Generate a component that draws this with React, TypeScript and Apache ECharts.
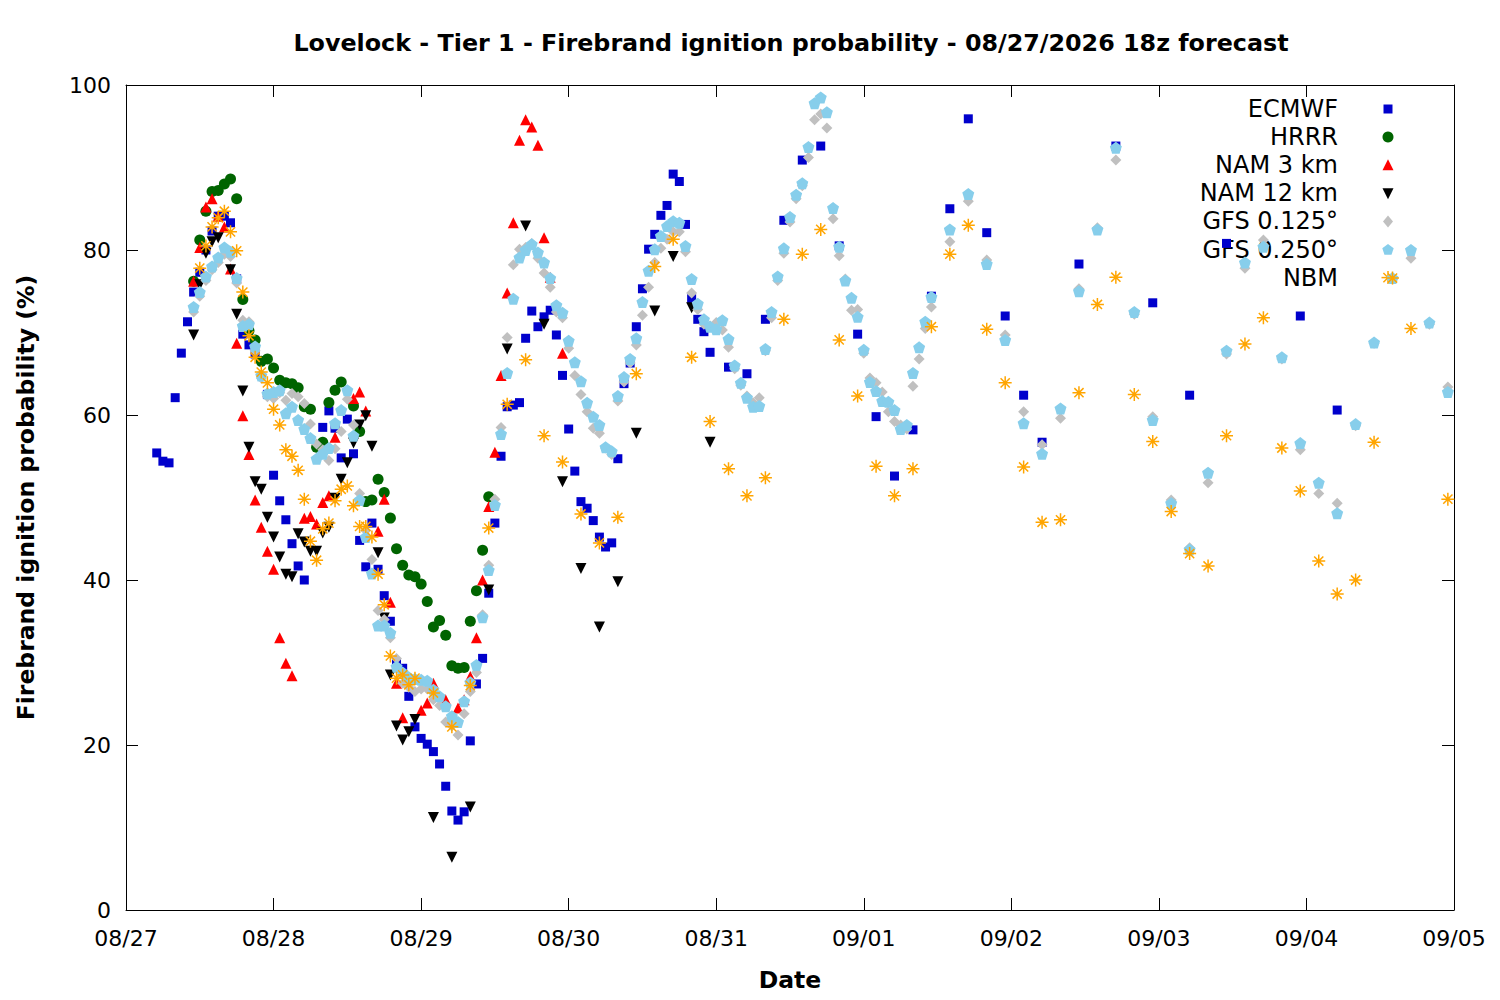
import { useRef, useEffect } from "react";
import * as echarts from "echarts";

// hours since 08/27 00z, value in %
const DATE_LABELS = ["08/27", "08/28", "08/29", "08/30", "08/31", "09/01", "09/02", "09/03", "09/04", "09/05"];

const ECMWF: [number, number][] = [
  [5, 55.4], [6, 54.4], [7, 54.2], [8, 62.1], [9, 67.5], [10, 71.3], [11, 74.9], [12, 77.3], [13, 80], [14, 82.3],
  [15, 84.1], [16, 84.1], [17, 83.3], [18, 76.5], [19, 69.8], [20, 68.5], [21, 67.4], [23, 62.5], [24, 52.7], [25, 49.6],
  [26, 47.3], [27, 44.4], [28, 41.7], [29, 40], [32, 58.5], [33, 60.5], [34, 58.4], [35, 54.8], [36, 59.5], [37, 55.3],
  [38, 44.8], [39, 41.6], [40, 46.9], [41, 41.3], [42, 38.1], [43, 35], [44, 29.9], [45, 29.3], [46, 25.9], [47, 22.2],
  [48, 20.8], [49, 20.1], [50, 19.2], [51, 17.7], [52, 15], [53, 12], [54, 10.9], [55, 11.9], [56, 20.5], [57, 27.4],
  [58, 30.5], [59, 38.4], [60, 46.9], [61, 55], [62, 61], [63, 61.2], [64, 61.5], [65, 69.3], [66, 72.6], [67, 70.7],
  [68, 71.9], [69, 72.7], [70, 69.7], [71, 64.8], [72, 58.3], [73, 53.2], [74, 49.5], [75, 48.7], [76, 47.2], [77, 45.2],
  [78, 44], [79, 44.5], [80, 54.7], [81, 63.8], [82, 66.3], [83, 70.7], [84, 75.3], [85, 80.1], [86, 81.9], [87, 84.2],
  [88, 85.4], [89, 89.2], [90, 88.3], [91, 83.1], [92, 74.1], [93, 71.6], [94, 70.1], [95, 67.6], [98, 65.8], [101, 65],
  [104, 71.6], [107, 83.6], [110, 90.9], [113, 92.6], [116, 80.5], [119, 69.8], [122, 59.8], [125, 52.6], [128, 58.2], [131, 74.4],
  [134, 85], [137, 95.9], [140, 82.1], [143, 72], [146, 62.4], [149, 56.7], [155, 78.3], [161, 92.6], [167, 73.6], [173, 62.4],
  [179, 80.8], [191, 72], [197, 60.6],
];

const HRRR: [number, number][] = [
  [11, 76.2], [12, 81.2], [13, 84.7], [14, 87.1], [15, 87.2], [16, 88], [17, 88.6], [18, 86.2], [19, 74], [20, 70.2],
  [21, 69.1], [22, 66.5], [23, 66.8], [24, 65.7], [25, 64.2], [26, 63.9], [27, 63.8], [28, 63.3], [29, 61], [30, 60.7],
  [31, 56.1], [32, 56.7], [33, 61.5], [34, 63], [35, 64], [37, 61.1], [38, 58], [39, 49.5], [40, 49.7], [41, 52.2],
  [42, 50.6], [43, 47.5], [44, 43.8], [45, 41.8], [46, 40.6], [47, 40.4], [48, 39.5], [49, 37.4], [50, 34.3], [51, 35.1],
  [52, 33.3], [53, 29.6], [54, 29.3], [55, 29.4], [56, 35], [57, 38.7], [58, 43.6], [59, 50.1],
];

const NAM3: [number, number][] = [
  [11, 76.2], [12, 80.3], [13, 85.2], [14, 86.2], [15, 84.1], [16, 82.8], [17, 77.7], [18, 68.7], [19, 59.9], [20, 55.2],
  [21, 49.7], [22, 46.4], [23, 43.5], [24, 41.3], [25, 33], [26, 29.9], [27, 28.4], [29, 47.5], [30, 47.7], [31, 46.8],
  [32, 49.4], [33, 50.2], [34, 57.3], [37, 62], [38, 62.8], [39, 60.5], [41, 45.9], [42, 49.8], [43, 37.3], [44, 27.5],
  [45, 23.3], [48, 24.2], [49, 25.1], [50, 27.5], [52, 25.5], [54, 24.5], [55, 25.5], [56, 28.3], [57, 33], [58, 40],
  [59, 48.9], [60, 55.5], [61, 64.8], [62, 74.8], [63, 83.3], [64, 93.3], [65, 95.8], [66, 94.9], [67, 92.7], [68, 81.5],
  [69, 76.7], [71, 67.5],
];

const NAM12: [number, number][] = [
  [11, 69.7], [12, 75.8], [13, 79.6], [14, 81], [15, 81.5], [17, 77.6], [18, 72.2], [19, 62.9], [20, 56.1], [21, 51.9],
  [22, 51], [23, 47.6], [24, 45.2], [25, 42.8], [26, 40.7], [27, 40.4], [28, 45.6], [29, 44.6], [30, 43.5], [31, 43.5],
  [32, 45.7], [33, 46.4], [34, 49.9], [35, 52.2], [36, 54.2], [37, 56.6], [38, 58.8], [39, 59.9], [40, 56.2], [41, 43.3],
  [42, 35.4], [43, 28.5], [44, 22.3], [45, 20.6], [46, 21.6], [47, 23.1], [50, 11.2], [53, 6.4], [56, 12.5], [59, 38.8],
  [62, 68], [65, 82.9], [68, 71], [71, 51.9], [74, 41.4], [77, 34.3], [80, 39.8], [83, 57.8], [86, 72.6], [89, 79.2],
  [92, 73], [95, 56.7],
];

const GFS0125: [number, number][] = [
  [11, 72.5], [12, 74.4], [13, 76.3], [14, 77.6], [15, 78.5], [16, 79.5], [17, 79.2], [18, 76], [19, 71.5], [20, 71.3],
  [21, 67.8], [22, 64.5], [23, 62.2], [24, 62], [25, 62.7], [26, 61.8], [27, 62.6], [28, 62.2], [29, 61.4], [30, 58.9],
  [31, 56.5], [32, 55.8], [33, 54.5], [34, 55.9], [35, 58], [36, 61.9], [37, 58.8], [38, 50.5], [39, 46], [40, 42.5],
  [41, 36.3], [42, 35.2], [43, 33], [44, 30.5], [45, 27.5], [46, 27], [47, 26.5], [48, 26.8], [49, 26.8], [50, 25.5],
  [51, 24.8], [52, 22.8], [53, 22.3], [54, 21.2], [55, 23.8], [56, 26.5], [57, 28.8], [58, 35.8], [59, 41.8], [60, 49.8],
  [61, 58.5], [62, 69.4], [63, 78.2], [64, 80.1], [65, 80.3], [66, 80.8], [67, 79], [68, 77.2], [69, 75.5], [70, 72.5],
  [71, 71.8], [72, 68.1], [73, 64.8], [74, 62.5], [75, 60.4], [76, 58.4], [77, 57.8], [78, 56], [79, 55.2], [80, 61.7],
  [81, 64], [82, 66.3], [83, 68.5], [84, 72.1], [85, 75.5], [86, 78.5], [87, 80.2], [88, 81.3], [89, 82.2], [90, 82.2],
  [91, 79.8], [92, 74.8], [93, 72.8], [94, 71], [95, 70.8], [96, 71.2], [97, 70.3], [98, 68.2], [99, 65.6], [100, 63.6],
  [101, 62.3], [102, 61.5], [103, 62.1], [104, 67.8], [105, 71.8], [106, 76.3], [107, 79.6], [108, 83.4], [109, 86.2], [110, 87.8],
  [111, 91.2], [112, 95.8], [113, 96.5], [114, 94.8], [115, 83.8], [116, 79.3], [117, 76.5], [118, 72.7], [119, 72.8], [120, 67.5],
  [121, 64.5], [122, 63.9], [123, 62.8], [124, 60.4], [125, 59.2], [126, 58.8], [127, 58.3], [128, 63.5], [129, 66.8], [130, 70.5],
  [131, 73.1], [134, 81], [137, 85.9], [140, 78.8], [143, 69.7], [146, 60.4], [149, 56.4], [152, 59.6], [155, 75.3], [158, 82.7],
  [161, 90.9], [164, 72.2], [167, 59.8], [170, 49.7], [173, 43.9], [176, 51.8], [179, 67.4], [182, 77.8], [185, 81.2], [188, 66.8],
  [191, 55.8], [194, 50.5], [197, 49.3], [200, 58.7], [203, 68.7], [206, 76.5], [209, 79], [212, 71], [215, 63.4],
];

const GFS0250: [number, number][] = [
  [11, 73.1], [12, 74.9], [13, 76.8], [14, 78], [15, 79.1], [16, 80.3], [17, 79.8], [18, 76.6], [19, 70.8], [20, 71],
  [21, 68.3], [22, 64.8], [23, 62.6], [24, 62.8], [25, 63], [26, 60.2], [27, 61], [28, 59.4], [29, 58.3], [30, 57.2],
  [31, 54.7], [32, 55.3], [33, 56], [34, 59], [35, 60.6], [36, 63], [37, 57.5], [38, 49.7], [39, 45.2], [40, 40.8],
  [41, 34.5], [42, 34.5], [43, 33.6], [44, 29.5], [45, 28.8], [46, 28.2], [47, 28], [48, 27.9], [49, 27.8], [50, 26.7],
  [51, 25.9], [52, 24.7], [53, 23.5], [54, 22.8], [55, 25.3], [56, 27.6], [57, 29.7], [58, 35.5], [59, 41.2], [60, 49.1],
  [61, 57.7], [62, 65.1], [63, 74.1], [64, 79.1], [65, 80], [66, 80.7], [67, 79.7], [68, 78.5], [69, 76.6], [70, 73.3],
  [71, 72.4], [72, 69], [73, 66.4], [74, 64.1], [75, 61.5], [76, 59.8], [77, 58.8], [78, 56.1], [79, 55.6], [80, 62.3],
  [81, 64.6], [82, 66.8], [83, 69.3], [84, 73.7], [85, 77.5], [86, 80.1], [87, 81.7], [88, 82.9], [89, 83.5], [90, 83.3],
  [91, 80.5], [92, 76.5], [93, 73.5], [94, 71.6], [95, 70.7], [96, 70.4], [97, 71.5], [98, 69.2], [99, 66], [100, 63.9],
  [101, 62.1], [102, 61], [103, 61.1], [104, 68], [105, 72.5], [106, 76.8], [107, 80.2], [108, 84], [109, 86.7], [110, 88.1],
  [111, 92.5], [112, 97.8], [113, 98.5], [114, 96.7], [115, 85.1], [116, 80.4], [117, 76.3], [118, 74.2], [119, 71.9], [120, 67.9],
  [121, 64], [122, 62.9], [123, 61.7], [124, 61.6], [125, 60.6], [126, 58.3], [127, 58.8], [128, 65.1], [129, 68.2], [130, 71.3],
  [131, 74.3], [134, 82.5], [137, 86.8], [140, 78.3], [143, 69.1], [146, 59], [149, 55.3], [152, 60.8], [155, 75], [158, 82.5],
  [161, 92.4], [164, 72.5], [167, 59.4], [170, 49.3], [173, 43.7], [176, 53], [179, 67.8], [182, 78.5], [185, 80.4], [188, 67],
  [191, 56.6], [194, 51.8], [197, 48.1], [200, 58.9], [203, 68.8], [206, 76.6], [209, 80], [212, 71.2], [215, 62.8],
];

const NBM: [number, number][] = [
  [12, 77.8], [13, 80.5], [14, 82.8], [15, 83.9], [16, 84.7], [17, 82.2], [18, 79.9], [19, 74.9], [20, 69.6], [21, 67],
  [22, 65.2], [23, 63.9], [24, 60.7], [25, 58.8], [26, 55.8], [27, 55], [28, 53.3], [29, 49.8], [30, 44.7], [31, 42.4],
  [32, 46.2], [33, 46.9], [34, 49.6], [35, 51], [36, 51.4], [37, 49], [38, 46.5], [39, 46.5], [40, 45.2], [41, 40.7],
  [42, 37], [43, 30.8], [44, 28.1], [45, 28.5], [46, 27.3], [47, 28.1], [50, 26.3], [53, 22.2], [56, 27.2], [59, 46.3],
  [62, 61.3], [65, 66.7], [68, 57.5], [71, 54.3], [74, 48], [77, 44.5], [80, 47.6], [83, 65], [86, 78], [89, 81.3],
  [92, 67], [95, 59.2], [98, 53.5], [101, 50.2], [104, 52.4], [107, 71.6], [110, 79.5], [113, 82.5], [116, 69.1], [119, 62.3],
  [122, 53.8], [125, 50.2], [128, 53.5], [131, 70.7], [134, 79.5], [137, 83], [140, 70.4], [143, 63.9], [146, 53.7], [149, 47],
  [152, 47.3], [155, 62.7], [158, 73.4], [161, 76.7], [164, 62.5], [167, 56.8], [170, 48.3], [173, 43.2], [176, 41.7], [179, 57.5],
  [182, 68.6], [185, 71.8], [188, 56], [191, 50.8], [194, 42.3], [197, 38.3], [200, 40], [203, 56.7], [206, 76.6], [209, 70.5],
  [215, 49.8],
];

const PENTAGON = "path://M0,-10L9.51,-3.09L5.88,8.09L-5.88,8.09L-9.51,-3.09Z";
const ASTERISK = "path://M0,-10L0,10M-10,0L10,0M-7.07,-7.07L7.07,7.07M-7.07,7.07L7.07,-7.07";

const SERIES = [
  { name: "ECMWF", data: ECMWF, color: "#0000cc", symbol: "rect", size: 9, rotate: 0 },
  { name: "HRRR", data: HRRR, color: "#006400", symbol: "circle", size: 11, rotate: 0 },
  { name: "NAM 3 km", data: NAM3, color: "#ff0000", symbol: "triangle", size: 11, rotate: 0 },
  { name: "NAM 12 km", data: NAM12, color: "#000000", symbol: "triangle", size: 11, rotate: 180 },
  { name: "GFS 0.125°", data: GFS0125, color: "#c0c0c0", symbol: "diamond", size: 11, rotate: 0 },
  { name: "GFS 0.250°", data: GFS0250, color: "#87ceeb", symbol: PENTAGON, size: 12, rotate: 0 },
  { name: "NBM", data: NBM, color: "#ffa500", symbol: ASTERISK, size: 13, rotate: 0 },
];

const FONT = '"DejaVu Sans", sans-serif';

function legendMarker(s: (typeof SERIES)[number], x: number, y: number): any {
  const fill = { fill: s.color };
  if (s.symbol === "rect") return { type: "rect", x, y, shape: { x: -4.5, y: -4.5, width: 9, height: 9 }, style: fill };
  if (s.symbol === "circle") return { type: "circle", x, y, shape: { cx: 0, cy: 0, r: 5.5 }, style: fill };
  if (s.symbol === "triangle") {
    const d = s.rotate ? -1 : 1;
    return { type: "polygon", x, y, shape: { points: [[0, -6 * d], [5.5, 5 * d], [-5.5, 5 * d]] }, style: fill };
  }
  if (s.symbol === "diamond") return { type: "polygon", x, y, shape: { points: [[0, -6], [5, 0], [0, 6], [-5, 0]] }, style: fill };
  if (s.symbol === PENTAGON) {
    const pts = [0, 1, 2, 3, 4].map((k) => {
      const a = -Math.PI / 2 + (k * 2 * Math.PI) / 5;
      return [6 * Math.cos(a), 6 * Math.sin(a) + 0.5];
    });
    return { type: "polygon", x, y, shape: { points: pts }, style: fill };
  }
  const lines = [0, 45, 90, 135].map((deg) => {
    const a = (deg * Math.PI) / 180;
    return { type: "line", shape: { x1: -6.5 * Math.cos(a), y1: -6.5 * Math.sin(a), x2: 6.5 * Math.cos(a), y2: 6.5 * Math.sin(a) }, style: { stroke: s.color, lineWidth: 1.5 } };
  });
  return { type: "group", x, y, children: lines };
}

export default function App() {
  const chartRef = useRef<HTMLDivElement>(null);
  useEffect(() => {
    if (!chartRef.current) return;
    const chart = echarts.init(chartRef.current, null, { renderer: "svg" });

    // gnuplot-style frame: ticks on all four sides, pointing into the plot.
    // onZero must be off or the mirrored top/right axes collapse onto the bottom/left ones.
    const axisCommon = {
      type: "value" as const,
      axisLine: { show: true, onZero: false, lineStyle: { color: "#000", width: 1 } },
      axisTick: { show: true, inside: true, length: 12, lineStyle: { color: "#000" } },
      splitLine: { show: false },
    };

    const legendItems: any[] = [];
    SERIES.forEach((s, i) => {
      const y = 109 + i * 28.1;
      legendItems.push({
        type: "text", x: 1338, y,
        style: { text: s.name, textAlign: "right", textVerticalAlign: "middle", font: `24px ${FONT}`, fill: "#000" },
      });
      legendItems.push(legendMarker(s, 1388, y));
    });

    chart.setOption({
      animation: false,
      backgroundColor: "#fff",
      title: {
        text: "Lovelock - Tier 1 - Firebrand ignition probability - 08/27/2026 18z forecast",
        left: 786, top: 26, textAlign: "center",
        textStyle: { fontFamily: FONT, fontSize: 23.8, fontWeight: "bold", color: "#000" },
      },
      grid: { left: 126, top: 85, width: 1328, height: 825 },
      xAxis: [
        {
          ...axisCommon, position: "bottom", min: 0, max: 216, interval: 24,
          name: "Date", nameLocation: "middle", nameGap: 58,
          nameTextStyle: { fontFamily: FONT, fontSize: 23.5, fontWeight: "bold", color: "#000" },
          axisLabel: {
            margin: 17, fontFamily: FONT, fontSize: 22, color: "#000",
            formatter: (v: number) => DATE_LABELS[Math.round(v / 24)] ?? "",
          },
        },
        { ...axisCommon, position: "top", min: 0, max: 216, interval: 24, axisLabel: { show: false } },
      ],
      yAxis: [
        {
          ...axisCommon, position: "left", min: 0, max: 100, interval: 20,
          name: "Firebrand ignition probability (%)", nameLocation: "middle", nameGap: 88,
          nameTextStyle: { fontFamily: FONT, fontSize: 23.5, fontWeight: "bold", color: "#000" },
          axisLabel: { margin: 15, fontFamily: FONT, fontSize: 22, color: "#000" },
        },
        { ...axisCommon, position: "right", min: 0, max: 100, interval: 20, axisLabel: { show: false } },
      ],
      series: SERIES.map((s) => ({
        name: s.name,
        type: "scatter",
        data: s.data,
        symbol: s.symbol,
        symbolSize: s.size,
        symbolRotate: s.rotate,
        itemStyle: s.symbol === ASTERISK
          ? { color: "none", borderColor: s.color, borderWidth: 1.5, opacity: 1 }
          : { color: s.color, opacity: 1 },
        emphasis: { disabled: true },
      })),
      graphic: legendItems,
    });

    return () => chart.dispose();
  }, []);
  return <div ref={chartRef} style={{ position: "fixed", left: 0, top: 0, width: 1500, height: 1000, background: "#fff" }} />;
}
